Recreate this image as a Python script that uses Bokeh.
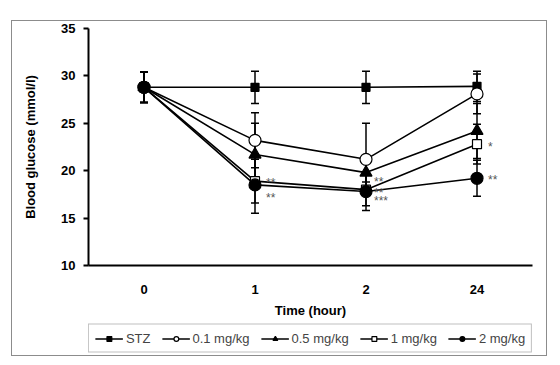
from bokeh.plotting import figure
from bokeh.layouts import column
from bokeh.models import (ColumnDataSource, Whisker, TeeHead, Legend, LegendItem,
                          Range1d, FactorRange, SingleIntervalTicker)
from bokeh.core.properties import value
from bokeh.embed import file_html
from bokeh.resources import INLINE

times = ["0", "1", "2", "24"]
series_names = ["STZ", "0.1 mg/kg", "0.5 mg/kg", "1 mg/kg", "2 mg/kg"]
stz = [28.8, 28.8, 28.8, 28.9]
stz_err = [1.6, 1.7, 1.7, 1.6]
d01 = [28.8, 23.2, 21.2, 28.1]
d01_err = [1.6, 2.9, 3.8, 2.1]
d05 = [28.8, 21.7, 19.8, 24.2]
d05_err = [1.6, 3.3, 1.0, 2.9]
d1 = [28.8, 18.9, 18.0, 22.8]
d1_err = [1.6, 2.3, 1.7, 2.1]
d2 = [28.8, 18.5, 17.8, 19.2]
d2_err = [1.6, 3.0, 2.0, 1.9]

star_x = ["1", "1", "2", "2", "2", "24", "24"]
star_y = [19.1, 17.5, 19.2, 18.1, 17.2, 22.9, 19.4]
star_text = ["**", "**", "**", "**", "***", "*", "**"]
star_dx = [11, 11, 8, 8, 8, 11, 11]

FONT = "Liberation Sans"

p = figure(width=534, height=300, x_range=FactorRange(*times, range_padding=0),
           y_range=Range1d(10, 35), output_backend="svg", toolbar_location=None,
           min_border_left=76, min_border_right=14, min_border_top=7, min_border_bottom=56)
p.outline_line_color = None
p.xgrid.grid_line_color = None
p.ygrid.grid_line_color = None
p.background_fill_color = "white"
p.border_fill_color = "white"

# legend-only strip below the chart (its glyphs fall outside its visible range)
p2 = figure(width=534, height=34, x_range=FactorRange(*times, range_padding=0),
            y_range=Range1d(100, 101), output_backend="svg", toolbar_location=None,
            x_axis_location=None, y_axis_location=None, min_border=0)
p2.outline_line_color = None
p2.xgrid.grid_line_color = None
p2.ygrid.grid_line_color = None
p2.border_fill_color = "white"

series = [
    (stz, stz_err, "square", 8, "black"),
    (d01, d01_err, "circle", 12, "white"),
    (d05, d05_err, "triangle", 12, "black"),
    (d1, d1_err, "square", 9, "white"),
    (d2, d2_err, "circle", 12, "black"),
]

srcs = []
for name, (vals, errs, marker, size, fill) in zip(series_names, series):
    src = ColumnDataSource(dict(x=times, y=vals,
                                upper=[v + e for v, e in zip(vals, errs)],
                                lower=[v - e for v, e in zip(vals, errs)]))
    p.line("x", "y", source=src, line_color="black", line_width=1.6)
    w = Whisker(base="x", upper="upper", lower="lower", source=src, dimension="height",
                line_color="black", line_width=1.5,
                upper_head=TeeHead(size=8, line_color="black", line_width=1.5),
                lower_head=TeeHead(size=8, line_color="black", line_width=1.5))
    p.add_layout(w)
    srcs.append(src)

legend_items = []
for name, src, (vals, errs, marker, size, fill) in zip(series_names, srcs, series):
    p.scatter("x", "y", source=src, marker=marker, size=size, fill_color=fill,
              line_color="black", line_width=1.2)
    l2 = p2.line("x", "y", source=src, line_color="black", line_width=1.6)
    m2 = p2.scatter("x", "y", source=src, marker=marker, size=size, fill_color=fill,
                    line_color="black", line_width=1.2)
    legend_items.append(LegendItem(label=name, renderers=[l2, m2]))

star_src = ColumnDataSource(dict(x=star_x, y=star_y, t=star_text, dx=star_dx))
p.text("x", "y", text="t", source=star_src, x_offset="dx", y_offset=4,
       text_font=value(FONT), text_font_size="12px", text_color="#555555",
       text_baseline="middle", text_align="left")

# axes
p.yaxis.ticker = SingleIntervalTicker(interval=5)
p.yaxis.minor_tick_line_color = None
p.yaxis.major_tick_out = 5
p.yaxis.major_tick_in = 0
p.yaxis.axis_line_width = 2
p.yaxis.major_tick_line_width = 2
p.yaxis.major_label_standoff = 8
p.yaxis.axis_label = "Blood glucose (mmol/l)"
p.yaxis.axis_label_standoff = 20

p.xaxis.major_tick_line_color = None
p.xaxis.minor_tick_line_color = None
p.xaxis.major_tick_out = 0
p.xaxis.axis_line_width = 2
p.xaxis.major_label_standoff = 19
p.xaxis.axis_label = "Time (hour)"
p.xaxis.axis_label_standoff = 6

for ax in (p.xaxis[0], p.yaxis[0]):
    ax.axis_line_color = "black"
    ax.major_label_text_font = FONT
    ax.major_label_text_font_size = "13px"
    ax.major_label_text_font_style = "bold"
    ax.major_label_text_color = "black"
    ax.axis_label_text_font = FONT
    ax.axis_label_text_font_size = "13px"
    ax.axis_label_text_font_style = "bold"
    ax.axis_label_text_color = "black"

legend = Legend(items=legend_items, orientation="horizontal", location="center",
                border_line_color="#7f7f7f", border_line_width=1,
                label_text_font=FONT, label_text_font_size="13px",
                glyph_width=28, glyph_height=12, label_height=12, label_standoff=3,
                spacing=11, padding=6, margin=0, background_fill_alpha=1)
p2.add_layout(legend, "center")

layout = column(p, p2, spacing=0, margin=(21, 0, 0, 12),
                styles={"outline": "1px solid #8c8c8c"})

open("out.html", "w").write(file_html(layout, INLINE))
